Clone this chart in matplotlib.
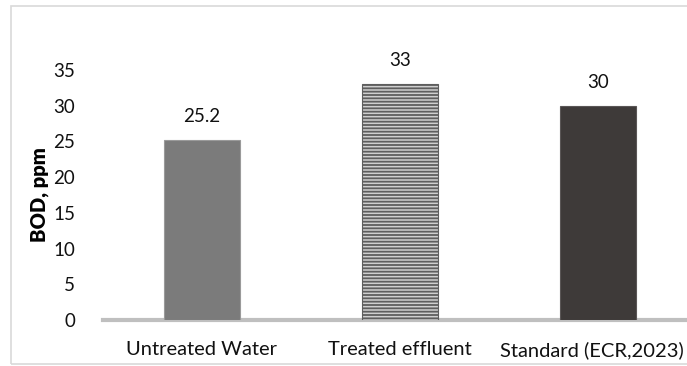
import matplotlib.pyplot as plt
import matplotlib.transforms as mtransforms
from matplotlib.patches import Rectangle

categories = ['Untreated Water', 'Treated effluent', 'Standard (ECR,2023)']
bod = [25.2, 33, 30]
value_labels = ['25.2', '33', '30']
yticks = [0, 5, 10, 15, 20, 25, 30, 35]

plt.rcParams['font.family'] = ['Lato', 'DejaVu Sans']
plt.rcParams['hatch.linewidth'] = 1.3

fig = plt.figure(figsize=(6.87, 3.66), dpi=100)
fig.patches.append(Rectangle((11 / 687, 2 / 366), 1.0, 358 / 366, transform=fig.transFigure,
                             fill=False, edgecolor='#d9d9d9', linewidth=1.2))

ax = fig.add_axes([103 / 687, 1 - 320 / 366, 594 / 687, 250 / 366])
x = range(len(categories))
bars = ax.bar(x, bod, width=0.385, zorder=2)

# bar styles
bars[0].set_facecolor('#7b7b7b')
bars[0].set_edgecolor('#9a9a9a')
bars[1].set_facecolor('#cfcfcf')
bars[1].set_edgecolor('#5e5e5e')
bars[1].set_hatch('-----')
bars[2].set_facecolor('#3e3a39')
bars[2].set_edgecolor('#5a5656')
for b in bars:
    b.set_linewidth(0.8)

for b, lab in zip(bars, value_labels):
    ax.annotate(lab, (b.get_x() + b.get_width() / 2, b.get_height()),
                xytext=(0, 17), textcoords='offset points', ha='center', va='center',
                fontsize=13.5, color='#111111', annotation_clip=False)

ax.set_xlim(-0.5, 2.5)
ax.set_ylim(0, 35)
ax.set_yticks(yticks)
ax.set_xticks(list(x))
ax.set_xticklabels(categories, fontsize=14.5)
ax.tick_params(axis='y', length=0, labelsize=13.5, pad=20)
ax.tick_params(axis='x', length=0, pad=15)
for lab in ax.get_yticklabels() + ax.get_xticklabels():
    lab.set_color('#111111')

# keep last category label inside the frame
last = ax.get_xticklabels()[-1]
last.set_transform(last.get_transform() + mtransforms.ScaledTranslation(-6 / 100, 0, fig.dpi_scale_trans))

for s in ['top', 'right', 'left']:
    ax.spines[s].set_visible(False)
ax.spines['bottom'].set_color('#bfbfbf')
ax.spines['bottom'].set_linewidth(3)
ax.spines['bottom'].set_zorder(1)

ax.set_ylabel('BOD, ppm', fontsize=14.5, fontweight='heavy', labelpad=3)

fig.savefig('out.png', dpi=100)
